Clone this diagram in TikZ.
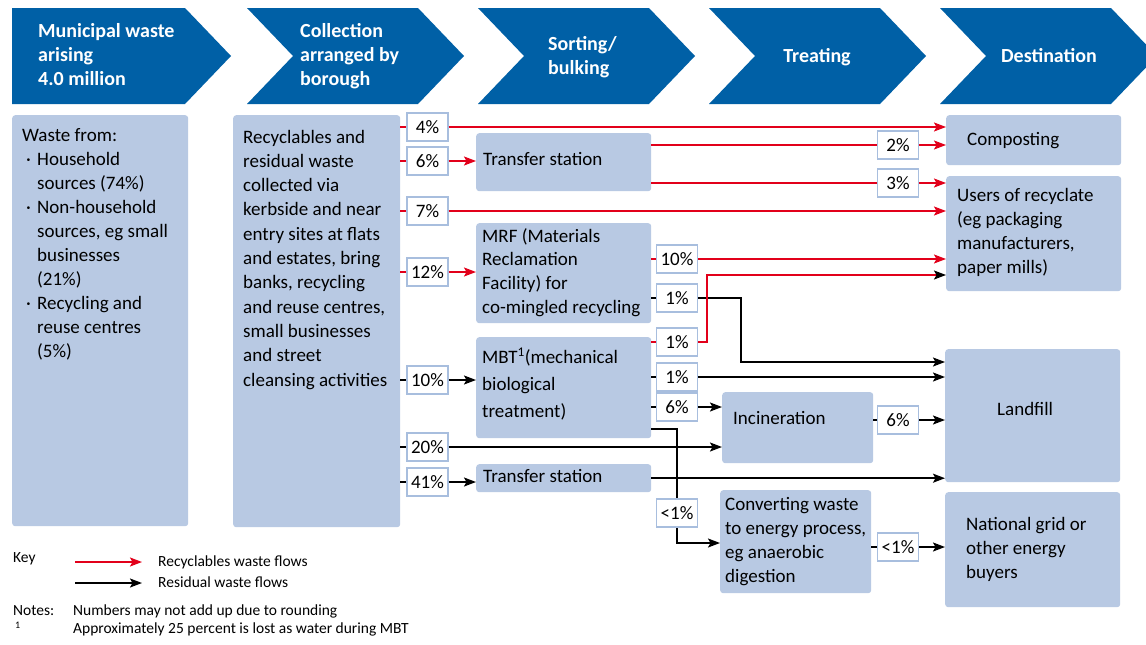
\documentclass[tikz,border=0pt]{standalone}
\usepackage{fontspec}
\setmainfont{Carlito}
\usetikzlibrary{arrows.meta,calc}
\definecolor{hdrblue}{RGB}{0,96,166}
\definecolor{boxblue}{RGB}{184,201,227}
\definecolor{pctline}{RGB}{168,190,222}
\definecolor{flowred}{RGB}{226,0,26}
\newcommand{\mlines}[1]{\begin{tabular}[t]{@{}l@{}}#1\end{tabular}}
\newcommand{\bul}{\makebox[15pt][l]{\hspace{4pt}·}}
\newcommand{\ind}{\hspace*{15pt}}
\begin{document}
\begin{tikzpicture}[x=1pt,y=-1pt,
  box/.style={fill=boxblue, rounded corners=3pt, draw=none, inner sep=0pt, anchor=north west},
  pct/.style={draw=pctline, fill=white, line width=1.2pt, minimum width=41pt, minimum height=28pt, inner sep=0pt, font=\fontsize{19}{23}\selectfont},
  txt/.style={inner sep=0pt, anchor=base west, font=\fontsize{19}{24}\selectfont, text=black},
  keytxt/.style={inner sep=0pt, anchor=base west, font=\fontsize{15.5}{18}\selectfont, text=black},
  hdrtxt/.style={inner sep=0pt, anchor=base west, font=\fontsize{20}{24}\selectfont\bfseries, text=white},
  chev/.style={fill=hdrblue},
  recflow/.style={draw=flowred, line width=1.6pt},
  resflow/.style={draw=black, line width=1.6pt},
  arr/.style={-{Stealth[length=12pt,width=9pt,inset=2.5pt]}},
  arrblack/.style={-{Stealth[length=12pt,width=9pt,inset=2.5pt,black]}}
]
\useasboundingbox (0,0) rectangle (1146,645);
\clip (0,0) rectangle (1146,645);
\fill[white] (0,0) rectangle (1146,645);

% ---------- header chevrons ----------
\fill[chev] (12,8) -- (185,8) -- (231,56) -- (185,104) -- (12,104) -- cycle;
\foreach \L in {247,478,709,940}{
  \fill[chev] (\L,8) -- ({\L+171},8) -- ({\L+217},56) -- ({\L+171},104) -- (\L,104) -- ({\L+46},56) -- cycle;
}
\node[hdrtxt] (h1) at (38,37.5) {\mlines{Municipal waste\\arising\\4.0 million}};
\node[hdrtxt] (h2) at (300,37.5) {\mlines{Collection\\arranged by\\borough}};
\node[hdrtxt] (h3) at (548,50) {\mlines{Sorting/\\bulking}};
\node[hdrtxt, anchor=base] (h4) at (817,62) {Treating};
\node[hdrtxt, anchor=base] (h5) at (1049,62) {Destination};

% ---------- boxes ----------
\node[box, minimum width=176pt, minimum height=411pt] (b1) at (12,115) {};
\node[box, minimum width=167pt, minimum height=412pt] (b2) at (233,115) {};
\node[box, minimum width=175pt, minimum height=58pt] (ts1) at (476,133) {};
\node[box, minimum width=175pt, minimum height=100pt] (mrf) at (476,223) {};
\node[box, minimum width=175pt, minimum height=101pt] (mbt) at (476,337) {};
\node[box, minimum width=175pt, minimum height=28pt] (ts2) at (476,464) {};
\node[box, minimum width=151pt, minimum height=71pt] (inc) at (722,392) {};
\node[box, minimum width=151pt, minimum height=103pt] (conv) at (720,490) {};
\node[box, minimum width=175pt, minimum height=50pt] (comp) at (946,115) {};
\node[box, minimum width=175pt, minimum height=115pt] (users) at (946,176) {};
\node[box, minimum width=175pt, minimum height=133pt] (land) at (945,349) {};
\node[box, minimum width=175pt, minimum height=115pt] (grid) at (945,492) {};

% ---------- box texts ----------
\node[txt] (b1t) at (22,141) {\mlines{Waste from:\\
 \bul Household\\ \ind sources (74\%)\\
 \bul Non-household\\ \ind sources, eg small\\ \ind businesses\\ \ind (21\%)\\
 \bul Recycling and\\ \ind reuse centres\\ \ind (5\%)}};
\node[txt, font=\fontsize{19}{24.3}\selectfont] (b2t) at (243,143) {\mlines{Recyclables and\\residual waste\\collected via\\kerbside and near\\entry sites at flats\\and estates, bring\\banks, recycling\\and reuse centres,\\small businesses\\and street\\cleansing activities}};
\node[txt] (ts1t) at (483,165) {Transfer station};
\node[txt, font=\fontsize{19}{23.7}\selectfont] (mrft) at (482,242) {\mlines{MRF (Materials\\Reclamation\\Facility) for\\co-mingled recycling}};
\node[txt, font=\fontsize{19}{27}\selectfont] (mbtt) at (482,363) {\mlines{MBT\textsuperscript{1}(mechanical\\biological\\treatment)}};
\node[txt] (ts2t) at (483,482) {Transfer station};
\node[txt] (inct) at (733,424) {Incineration};
\node[txt] (convt) at (725,510) {\mlines{Converting waste\\to energy process,\\eg anaerobic\\digestion}};
\node[txt] (compt) at (967,145) {Composting};
\node[txt] (userst) at (957,201) {\mlines{Users of recyclate\\(eg packaging\\manufacturers,\\paper mills)}};
\node[txt] (landt) at (997,415) {Landfill};
\node[txt] (gridt) at (966,530) {\mlines{National grid or\\other energy\\buyers}};

% ---------- line passing under a percentage box ----------
\coordinate (mb1) at (677,429);
\coordinate (mb2) at (677,543);
\draw[resflow, arr] (mbt.east |- mb1) -- (mb1) -- (mb2) -- (conv.west |- mb2);

% ---------- percentage boxes ----------
\node[pct] (pa4)  at (427.5,127) {4\%};
\node[pct] (pa6)  at (427.5,161) {6\%};
\node[pct] (pa7)  at (427.5,211) {7\%};
\node[pct] (pa12) at (427.5,272) {12\%};
\node[pct] (pa10) at (427.5,380) {10\%};
\node[pct] (pa20) at (427.5,447) {20\%};
\node[pct] (pa41) at (427.5,482) {41\%};
\node[pct] (pc10) at (677,259) {10\%};
\node[pct] (pc1a) at (677,298) {1\%};
\node[pct] (pc1r) at (677,342) {1\%};
\node[pct] (pc1b) at (677,377) {1\%};
\node[pct] (pc6)  at (677,407) {6\%};
\node[pct] (pcl)  at (677,513) {<1\%};
\node[pct] (pe2)  at (898,145) {2\%};
\node[pct] (pe3)  at (898,183) {3\%};
\node[pct] (pe6)  at (898,420) {6\%};
\node[pct] (pel)  at (898,547) {<1\%};

% ---------- residual (black) flows ----------
\coordinate (bk) at (741,362);
\draw[resflow] (mrf.east |- pc1a.west) -- (pc1a.west);
\draw[resflow, arr] (pc1a.east) -| (bk) -- (land.west |- bk);
\draw[resflow] (b2.east |- pa10.west) -- (pa10.west);
\draw[resflow, arr] (pa10.east) -- (mbt.west |- pa10.east);
\draw[resflow] (mbt.east |- pc1b.west) -- (pc1b.west);
\draw[resflow, arr] (pc1b.east) -- (land.west |- pc1b.east);
\draw[resflow] (mbt.east |- pc6.west) -- (pc6.west);
\draw[resflow, arr] (pc6.east) -- (inc.west |- pc6.east);
\draw[resflow] (b2.east |- pa20.west) -- (pa20.west);
\draw[resflow, arr] (pa20.east) -- (inc.west |- pa20.east);
\draw[resflow] (b2.east |- pa41.west) -- (pa41.west);
\draw[resflow, arr] (pa41.east) -- (ts2.west |- pa41.east);
\draw[resflow, arr] (ts2.east) -- (land.west |- ts2.east);
\draw[resflow] (inc.east |- pe6.west) -- (pe6.west);
\draw[resflow, arr] (pe6.east) -- (land.west |- pe6.east);
\draw[resflow] (conv.east |- pel.west) -- (pel.west);
\draw[resflow, arr] (pel.east) -- (grid.west |- pel.east);

% ---------- recyclable (red) flows ----------
\draw[recflow] (b2.east |- pa4.west) -- (pa4.west);
\draw[recflow, arr] (pa4.east) -- (comp.west |- pa4.east);
\draw[recflow] (b2.east |- pa6.west) -- (pa6.west);
\draw[recflow, arr] (pa6.east) -- (ts1.west |- pa6.east);
\draw[recflow] (ts1.east |- pe2.west) -- (pe2.west);
\draw[recflow, arr] (pe2.east) -- (comp.west |- pe2.east);
\draw[recflow] (ts1.east |- pe3.west) -- (pe3.west);
\draw[recflow, arr] (pe3.east) -- (users.west |- pe3.east);
\draw[recflow] (b2.east |- pa7.west) -- (pa7.west);
\draw[recflow, arr] (pa7.east) -- (users.west |- pa7.east);
\draw[recflow] (b2.east |- pa12.west) -- (pa12.west);
\draw[recflow, arr] (pa12.east) -- (mrf.west |- pa12.east);
\draw[recflow] (mrf.east |- pc10.west) -- (pc10.west);
\draw[recflow, arr] (pc10.east) -- (users.west |- pc10.east);
\coordinate (rk) at (707,275);
\draw[recflow] (mbt.east |- pc1r.west) -- (pc1r.west);
\draw[recflow, arrblack] (pc1r.east) -| (rk) -- (users.west |- rk);

% ---------- key and notes ----------
\node[keytxt] (key) at (13,562) {Key};
\coordinate (kr1) at (75,562);
\coordinate (kr2) at (142,562);
\coordinate (kb1) at (75,583);
\coordinate (kb2) at (142,583);
\draw[recflow, arr] (kr1) -- (kr2);
\draw[resflow, arr] (kb1) -- (kb2);
\node[keytxt] (krt) at (158,566) {Recyclables waste flows};
\node[keytxt] (kbt) at (158,587) {Residual waste flows};
\node[keytxt] (notes) at (13,615) {Notes:};
\node[keytxt] (n1) at (73,615) {Numbers may not add up due to rounding};
\node[keytxt, font=\fontsize{10}{12}\selectfont] (fn) at (15,628) {1};
\node[keytxt] (n2) at (73,633) {Approximately 25 percent is lost as water during MBT};
\end{tikzpicture}
\end{document}
